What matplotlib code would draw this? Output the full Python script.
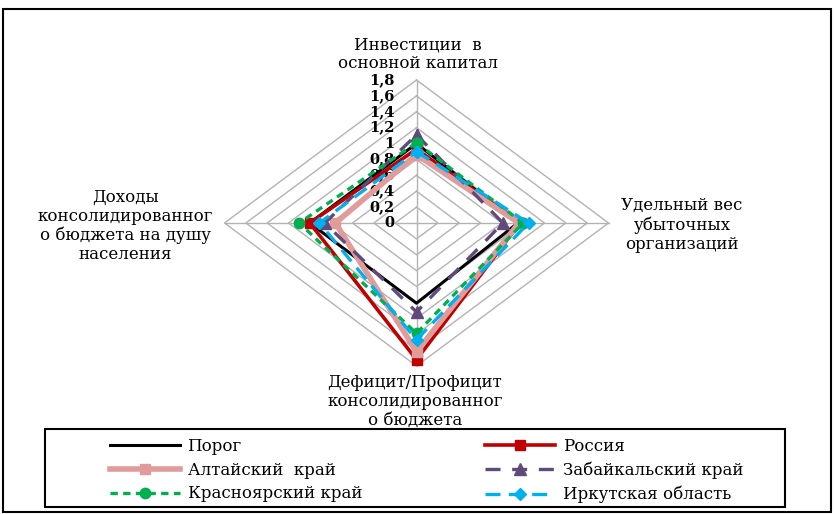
import matplotlib
matplotlib.use('Agg')
import matplotlib.pyplot as plt
import numpy as np
from matplotlib.patches import Rectangle
from matplotlib.transforms import offset_copy

plt.rcParams['font.family'] = ['DejaVu Serif']

# data
axis_labels = ['Инвестиции  в\nосновной капитал',
               'Удельный вес\nубыточных\nорганизаций',
               'Дефицит/Профицит\nконсолидированног\nо бюджета',
               'Доходы\nконсолидированног\nо бюджета на душу\nнаселения']
r_ticks = [0, 0.2, 0.4, 0.6, 0.8, 1.0, 1.2, 1.4, 1.6, 1.8]
tick_labels = ['0', '0,2', '0,4', '0,6', '0,8', '1', '1,2', '1,4', '1,6', '1,8']

names = ['Порог', 'Россия', 'Алтайский  край', 'Забайкальский край',
         'Красноярский край', 'Иркутская область']
porog = [1.0, 0.95, 1.01, 1.0]
russia = [0.93, 0.97, 1.72, 1.0]
altai = [0.86, 0.96, 1.62, 0.76]
zabaik = [1.11, 0.81, 1.12, 0.86]
krasn = [1.01, 1.0, 1.39, 1.10]
irkut = [0.90, 1.05, 1.47, 0.91]

W, H = 834, 514
fig = plt.figure(figsize=(W / 100, H / 100), dpi=100)

# stretched radar: wider than tall, like the original picture
cx, cy, rx, ry = 416.5, 223, 192, 143
ax = fig.add_axes([(cx - rx) / W, (H - cy - ry) / H, 2 * rx / W, 2 * ry / H],
                  projection='polar')
ax.set_theta_zero_location('N')
ax.set_theta_direction(-1)
ax.set_ylim(0, 1.8)
ax.set_aspect('auto')
ax.grid(False)
ax.set_xticks([])
ax.set_yticks([])
ax.spines['polar'].set_visible(False)
ax.patch.set_visible(False)

theta = np.arange(len(axis_labels)) * 2 * np.pi / len(axis_labels)
theta_c = np.append(theta, theta[0])

def closed(v):
    return np.append(v, v[0])

# grid diamonds and spokes
for r in r_ticks[1:]:
    ax.plot(theta_c, [r] * len(theta_c), color='#B3B3B3', lw=1, clip_on=False, zorder=1)
for t in theta:
    ax.plot([t, t], [0, 1.8], color='#B3B3B3', lw=1, clip_on=False, zorder=1)

# radial tick labels
tr = offset_copy(ax.transData, fig=fig, x=-22, y=0, units='dots')
for r, lab in zip(r_ticks, tick_labels):
    ax.text(0, r, lab, transform=tr, ha='right', va='center',
            fontsize=10.5, fontweight='bold', zorder=2)

styles = [
    dict(color='black', lw=2.2, ls='-'),
    dict(color='#C00000', lw=2.6, ls='-', marker='s', ms=7.5),
    dict(color='#E29B9B', lw=4, ls='-', marker='s', ms=7.5),
    dict(color='#604A7B', lw=2.4, dashes=(4.5, 3.5), marker='^', ms=8.5),
    dict(color='#00B050', lw=2.4, dashes=(2.2, 1.6), marker='o', ms=7.5),
    dict(color='#00B0F0', lw=2.4, dashes=(4.5, 2.5), marker='D', ms=6.5),
]
handles = []
for name, vals, st in zip(names, [porog, russia, altai, zabaik, krasn, irkut], styles):
    h, = ax.plot(theta_c, closed(vals), label=name, clip_on=False, zorder=3, **st)
    handles.append(h)

# axis category labels
lab_pos = [(418, 54), (682, 225), (415, 401), (125, 226)]
for lab, (x, y) in zip(axis_labels, lab_pos):
    fig.text(x / W, 1 - y / H, lab, ha='center', va='center', fontsize=12,
             linespacing=1.15, multialignment='center')

# legend (row-wise order)
order = [0, 2, 4, 1, 3, 5]
fig.legend([handles[i] for i in order], [names[i] for i in order],
           loc='upper left', bbox_to_anchor=(110 / W, 1 - 438 / H), ncol=2,
           frameon=False, borderpad=0, borderaxespad=0, fontsize=12,
           handlelength=4.2, handletextpad=0.45, columnspacing=7.4,
           labelspacing=0.4)

fig.add_artist(Rectangle((45 / W, 1 - 507 / H), 740 / W, 78 / H,
                         transform=fig.transFigure, fill=False, ec='black', lw=1.5))
fig.add_artist(Rectangle((3 / W, 1 - 512 / H), 828 / W, 503 / H,
                         transform=fig.transFigure, fill=False, ec='black', lw=1.5))

fig.savefig('out.png', dpi=100)
